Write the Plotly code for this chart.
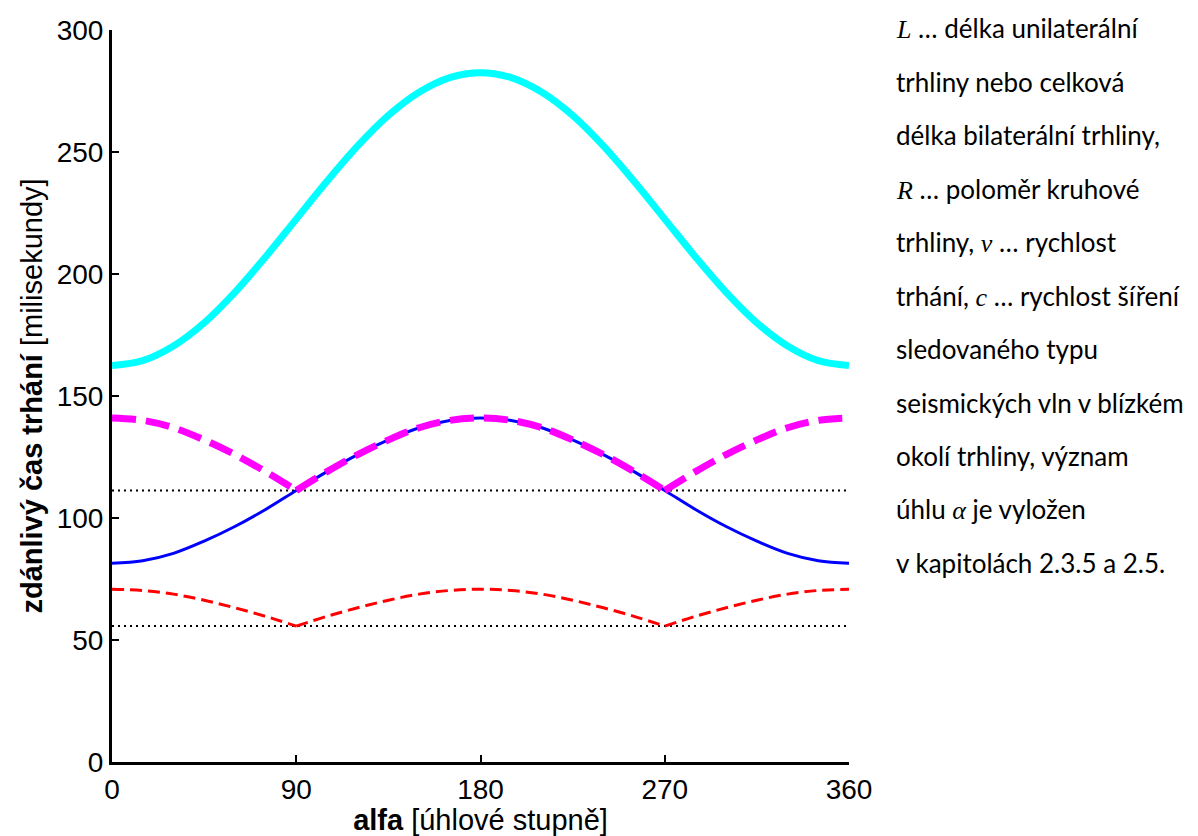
import plotly.graph_objects as go

# ---- data ----
alfa = [0, 15, 30, 45, 60, 75, 90, 105, 120, 135, 150, 165, 180,
        195, 210, 225, 240, 255, 270, 285, 300, 315, 330, 345, 360]
cyan_vals = [162.5, 164.5, 170.5, 180, 192.5, 207, 222.5, 238, 252.5, 265, 274.5, 280.5, 282.5,
             280.5, 274.5, 265, 252.5, 238, 222.5, 207, 192.5, 180, 170.5, 164.5, 162.5]
blue_vals = [81.5, 82.5, 85.5, 90.5, 96.5, 103.5, 111.3, 119, 126, 132, 137, 140, 141,
             140, 137, 132, 126, 119, 111.3, 103.5, 96.5, 90.5, 85.5, 82.5, 81.5]
magenta_vals = [141, 140, 137, 132, 126, 119, 111.3, 119, 126, 132, 137, 140, 141,
                140, 137, 132, 126, 119, 111.3, 119, 126, 132, 137, 140, 141]
red_vals = [70.8, 70.3, 68.8, 66.3, 63.2, 59.7, 55.7, 59.7, 63.2, 66.3, 68.8, 70.3, 70.8,
            70.3, 68.8, 66.3, 63.2, 59.7, 55.7, 59.7, 63.2, 66.3, 68.8, 70.3, 70.8]
dotted_levels = [111.3, 55.7]
kink_angles = [90, 270]

x_ticks = [0, 90, 180, 270, 360]
y_ticks = [0, 50, 100, 150, 200, 250, 300]

M = "<i><span style=\"font-family:'Liberation Serif'\">%s</span></i>"
note_lines = [
    M % "L" + " … délka unilaterální",
    "trhliny nebo celková",
    "délka bilaterální trhliny,",
    M % "R" + " … poloměr kruhové",
    "trhliny, " + M % "v" + " … rychlost",
    "trhání, " + M % "c" + " … rychlost šíření",
    "sledovaného typu",
    "seismických vln v blízkém",
    "okolí trhliny, význam",
    "úhlu " + M % "α" + " je vyložen",
    "v kapitolách 2.3.5 a 2.5.",
]

fig = go.Figure()

# dotted reference levels
for lv in dotted_levels:
    fig.add_trace(go.Scatter(x=[alfa[0], alfa[-1]], y=[lv, lv], mode="lines",
                             line=dict(color="black", width=2, dash="2px,4px"),
                             hoverinfo="skip", showlegend=False))

fig.add_trace(go.Scatter(x=alfa, y=cyan_vals, mode="lines",
                         line=dict(color="#00FFFF", width=7, shape="spline"), showlegend=False))
fig.add_trace(go.Scatter(x=alfa, y=blue_vals, mode="lines",
                         line=dict(color="#0000FF", width=3, shape="spline"), showlegend=False))


def segments(xs, ys, kinks):
    idx = [0] + [xs.index(k) for k in kinks] + [len(xs) - 1]
    for a, b in zip(idx[:-1], idx[1:]):
        yield xs[a:b + 1], ys[a:b + 1]


for sx, sy in segments(alfa, magenta_vals, kink_angles):
    fig.add_trace(go.Scatter(x=sx, y=sy, mode="lines",
                             line=dict(color="#FF00FF", width=7, shape="spline", dash="24px,10px"),
                             showlegend=False))
for sx, sy in segments(alfa, red_vals, kink_angles):
    fig.add_trace(go.Scatter(x=sx, y=sy, mode="lines",
                             line=dict(color="#FF0000", width=3, shape="spline", dash="12px,6px"),
                             showlegend=False))

L, R, T, B = 112, 349, 30, 74
W, H = 1198, 836
pw, ph = W - L - R, H - T - B

for i, txt in enumerate(note_lines):
    py = 28 + i * 53.5
    fig.add_annotation(x=(894 - L) / pw, y=(H - B - py) / ph, xref="paper", yref="paper",
                       text=txt, showarrow=False, xanchor="left", yanchor="middle",
                       font=dict(family="Lato", size=26, color="black"))

fig.update_layout(
    width=W, height=H,
    margin=dict(l=L, r=R, t=T, b=B, autoexpand=False),
    paper_bgcolor="white", plot_bgcolor="white",
    font=dict(family="Liberation Sans, Arial", color="black"),
    xaxis=dict(range=[0, 360], tickvals=x_ticks, ticks="inside", ticklen=7, tickwidth=2,
               tickcolor="black", showline=True, linecolor="black", linewidth=3,
               showgrid=False, zeroline=False, tickfont=dict(size=28), automargin=False,
               title=dict(text="<b>alfa</b> [úhlové stupně]", font=dict(size=29), standoff=2)),
    yaxis=dict(range=[0, 300], tickvals=y_ticks, ticks="inside", ticklen=7, tickwidth=2,
               tickcolor="black", showline=True, linecolor="black", linewidth=3,
               showgrid=False, zeroline=False, tickfont=dict(size=28), automargin=False,
               title=dict(text="<b>zdánlivý čas trhání</b> [milisekundy]", font=dict(size=29),
                          standoff=6)),
)

fig.write_html("out.html")
